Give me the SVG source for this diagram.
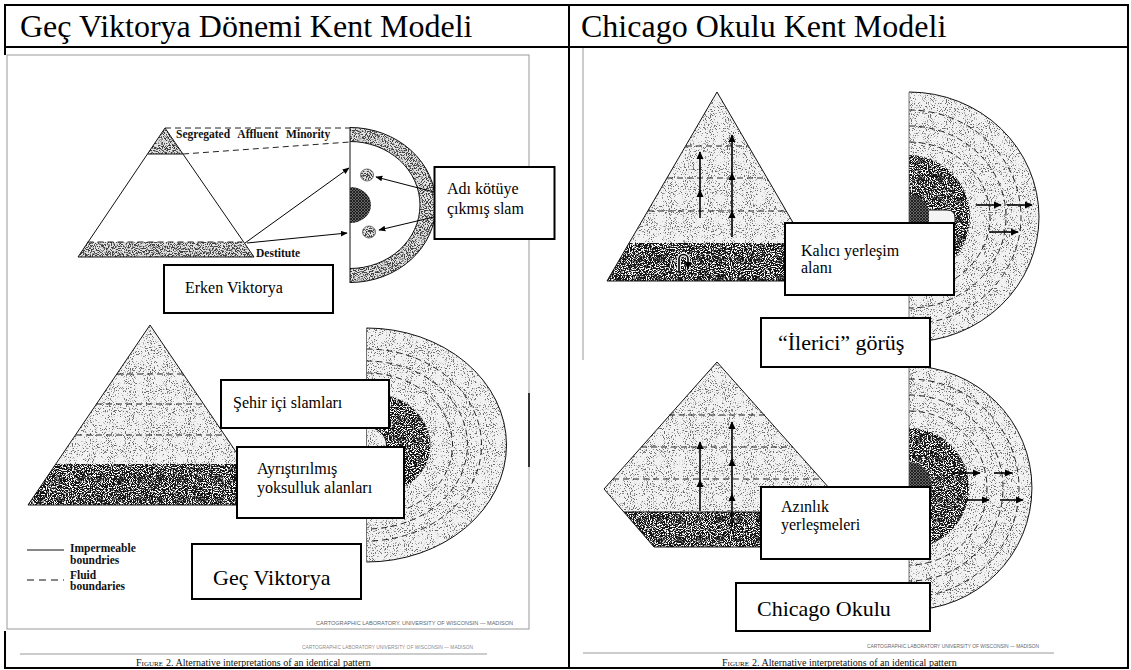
<svg xmlns="http://www.w3.org/2000/svg" width="1131" height="670" viewBox="0 0 1131 670">
<style>
.hdr{font-family:"Liberation Serif",serif;font-size:32px;fill:#000}
.lbl{font-family:"Liberation Serif",serif;font-size:16px;fill:#000}
.big{font-family:"Liberation Serif",serif;font-size:22px;fill:#000}
.fig{font-family:"Liberation Serif",serif;font-weight:bold;font-size:11.5px;fill:#111}
.cap{font-family:"Liberation Sans",sans-serif;font-size:6px;fill:#666}
.capt{font-family:"Liberation Serif",serif;font-size:10px;fill:#111}
.box{fill:#fff;stroke:#000;stroke-width:2}
.dash{fill:none;stroke:#222;stroke-width:1;stroke-dasharray:6 4}
.edge{fill:none;stroke:#111;stroke-width:1}
.thin{fill:none;stroke:#555;stroke-width:0.8}
.gray{fill:none;stroke:#999;stroke-width:1}
.tb{stroke:#000;stroke-width:2;fill:none}
.conn{stroke:#000;stroke-width:1;fill:none;marker-end:url(#ah)}
.conn2{stroke:#000;stroke-width:1.6;fill:none;marker-end:url(#ah2)}
.halo{stroke:#eee;stroke-width:4;fill:none}
.lt{fill:#f2f2f2;filter:url(#fLight)}
.md{fill:#e2e2e2;filter:url(#fMed)}
.dk{fill:#ffffff;filter:url(#fDark)}
.hat{fill:url(#hatch)}
</style>
<defs>
<marker id="ah" viewBox="0 0 10 10" refX="9" refY="5" markerWidth="7" markerHeight="7" orient="auto" markerUnits="userSpaceOnUse"><path d="M0,1 L10,5 L0,9 Z" fill="#000"/></marker>
<marker id="ah2" viewBox="0 0 10 10" refX="9" refY="5" markerWidth="8" markerHeight="8" orient="auto" markerUnits="userSpaceOnUse"><path d="M0,0.5 L10,5 L0,9.5 Z" fill="#000"/></marker>
<pattern id="hatch" width="3" height="3" patternUnits="userSpaceOnUse"><rect width="3" height="3" fill="#666"/><path d="M0,0 L3,3 M3,0 L0,3" stroke="#111" stroke-width="0.8"/></pattern>
<filter id="fLight" color-interpolation-filters="sRGB">
<feTurbulence type="fractalNoise" baseFrequency="0.95" numOctaves="2" seed="4" result="n"/>
<feColorMatrix in="n" type="matrix" values="0 0 0 0 0.42  0 0 0 0 0.42  0 0 0 0 0.42  9 0 0 0 -5.2" result="d"/>
<feComposite in="d" in2="SourceGraphic" operator="in" result="dc"/>
<feMerge><feMergeNode in="SourceGraphic"/><feMergeNode in="dc"/></feMerge>
</filter>
<filter id="fMed" color-interpolation-filters="sRGB">
<feTurbulence type="fractalNoise" baseFrequency="0.95" numOctaves="2" seed="7" result="n"/>
<feColorMatrix in="n" type="matrix" values="0 0 0 0 0.25  0 0 0 0 0.25  0 0 0 0 0.25  8 0 0 0 -3.8" result="d"/>
<feComposite in="d" in2="SourceGraphic" operator="in" result="dc"/>
<feMerge><feMergeNode in="SourceGraphic"/><feMergeNode in="dc"/></feMerge>
</filter>
<filter id="fDark" color-interpolation-filters="sRGB">
<feTurbulence type="fractalNoise" baseFrequency="0.95" numOctaves="2" seed="11" result="n"/>
<feColorMatrix in="n" type="matrix" values="0 0 0 0 0.08  0 0 0 0 0.08  0 0 0 0 0.08  8 0 0 0 -3.1" result="d"/>
<feComposite in="d" in2="SourceGraphic" operator="in" result="dc"/>
<feMerge><feMergeNode in="SourceGraphic"/><feMergeNode in="dc"/></feMerge>
</filter>
</defs>
<rect width="1131" height="670" fill="#fff"/>

<g id="headers">
<text class="hdr" x="20" y="37">Geç Viktorya Dönemi Kent Modeli</text>
<text class="hdr" x="581" y="37">Chicago Okulu Kent Modeli</text>
</g>

<g id="left-frame">
<rect x="7" y="55" width="522" height="574" fill="#fff" stroke="#999" stroke-width="1"/>
<line x1="529" y1="393" x2="529" y2="467" stroke="#000" stroke-width="1.5"/>
<text class="cap" x="316" y="625" textLength="197" lengthAdjust="spacingAndGlyphs">CARTOGRAPHIC LABORATORY. UNIVERSITY OF WISCONSIN — MADISON</text>
<text class="cap" x="302" y="649" textLength="171" lengthAdjust="spacingAndGlyphs" fill-opacity="0.8">CARTOGRAPHIC LABORATORY UNIVERSITY OF WISCONSIN — MADISON</text>
<line x1="20" y1="654" x2="487" y2="654" class="gray"/>
<text class="capt" x="136" y="666" font-variant="small-caps">Figure</text>
<text class="capt" x="166" y="666">2. Alternative interpretations of an identical pattern</text>
</g>

<g id="right-frame">
<line x1="583" y1="48" x2="583" y2="360" class="gray"/>
<text class="cap" x="867" y="648" textLength="172" lengthAdjust="spacingAndGlyphs">CARTOGRAPHIC LABORATORY UNIVERSITY OF WISCONSIN — MADISON</text>
<line x1="583" y1="653" x2="1054" y2="653" class="gray"/>
<text class="capt" x="722" y="666" font-variant="small-caps">Figure</text>
<text class="capt" x="752" y="666">2. Alternative interpretations of an identical pattern</text>
</g>

<!-- Erken Viktorya figure -->
<g id="erken-pyramid">
<path class="md" d="M165,128 L147.5,154 L182.7,154 Z"/>
<path class="md" d="M87.5,242 L242.5,242 L254,257 L78,257 Z"/>
<path class="edge" d="M165,128 L78,257 L254,257 Z"/>
<line class="edge" x1="147.5" y1="154" x2="182.7" y2="154"/>
<line class="dash" x1="87.5" y1="242" x2="242.5" y2="242"/>
<text class="fig" x="176" y="138" word-spacing="5">Segregated Affluent Minority</text>
<text class="fig" x="256" y="257">Destitute</text>
</g>
<g id="erken-city">
<path class="md" d="M350,127.5 A86,77.5 0 0 1 350,282.5 L350,268.5 A70,63.5 0 0 0 350,141.5 Z"/>
<path class="edge" d="M350,127.5 A86,77.5 0 0 1 350,282.5 M350,268.5 A70,63.5 0 0 0 350,141.5"/>
<line class="edge" x1="350" y1="127" x2="350" y2="283" stroke-width="1.5"/>
<path class="hat" d="M350,187 A21,18 0 0 1 350,223 Z"/>
<ellipse class="md" cx="367" cy="175" rx="6.5" ry="6"/>
<ellipse class="md" cx="369" cy="232" rx="6.5" ry="6"/>
<ellipse class="thin" cx="367" cy="175" rx="6.5" ry="6" stroke="#999"/>
<ellipse class="thin" cx="369" cy="232" rx="6.5" ry="6" stroke="#999"/>
<line class="dash" x1="165" y1="128" x2="350" y2="128"/>
<line class="dash" x1="183" y1="154" x2="350" y2="142"/>
</g>

<!-- Geç Viktorya figure -->
<g id="gec-pyramid">
<path class="lt" d="M150,325 L28,505 L272,505 Z"/>
<path class="dk" d="M55.8,464 L244.2,464 L272,505 L28,505 Z"/>
<path class="edge" d="M150,325 L28,505 L272,505 Z" stroke-width="0.8"/>
<line class="dash" x1="117" y1="374" x2="183" y2="374"/>
<line class="dash" x1="96" y1="404" x2="204" y2="404"/>
<line class="dash" x1="76" y1="435" x2="224" y2="435"/>
</g>
<g id="gec-city">
<path class="lt" d="M366.5,328 A140,117 0 0 1 366.5,562 Z"/>
<path class="dk" d="M366.5,392 A64,53 0 0 1 366.5,498 L366.5,463 A20,18 0 0 0 366.5,427 Z"/>
<path class="edge" d="M366.5,427 A20,18 0 0 1 366.5,463" stroke-width="0.8"/>
<path class="dash" d="M366.5,349 A115,96 0 0 1 366.5,541"/>
<path class="dash" d="M366.5,361 A101,84 0 0 1 366.5,529"/>
<path class="dash" d="M366.5,373 A86,72 0 0 1 366.5,517"/>
<path class="edge" d="M366.5,328 A140,117 0 0 1 366.5,562" stroke-width="0.8"/>
<line class="thin" x1="366.5" y1="328" x2="366.5" y2="562"/>
</g>
<g id="legend">
<line x1="27" y1="550" x2="64" y2="550" stroke="#111" stroke-width="1.2"/>
<text class="fig" x="70" y="552">Impermeable</text>
<text class="fig" x="70" y="564">boundries</text>
<line x1="27" y1="580" x2="64" y2="580" stroke="#111" stroke-width="1.2" stroke-dasharray="7 5"/>
<text class="fig" x="70" y="579">Fluid</text>
<text class="fig" x="70" y="590">boundaries</text>
</g>

<!-- Chicago top figure -->
<g id="ilerici-pyramid">
<path class="lt" d="M717,92 L607,281 L827,281 Z"/>
<path class="dk" d="M629,243 L805,243 L827,281 L607,281 Z"/>
<path class="edge" d="M717,92 L607,281 L827,281 Z" stroke-width="0.8"/>
<line class="dash" x1="686" y1="146" x2="748" y2="146"/>
<line class="dash" x1="667" y1="178" x2="767" y2="178"/>
<line class="dash" x1="648" y1="211" x2="786" y2="211"/>
</g>
<g id="ilerici-city">
<path class="lt" d="M909,92 A130,125 0 0 1 909,342 Z"/>
<path class="dk" d="M909,155 A61,62 0 0 1 909,279 Z"/>
<path class="hat" d="M909,195 A21,22 0 0 1 909,239 Z"/>
<path d="M929,210 L947,210 Q955,210 955,218 L955,226 L929,226" fill="#f4f4f4" stroke="#111" stroke-width="1"/>
<path class="dash" d="M909,110 A112,107 0 0 1 909,324"/>
<path class="dash" d="M909,126 A97,91 0 0 1 909,308"/>
<path class="dash" d="M909,142 A81,75 0 0 1 909,292"/>
<path class="edge" d="M909,92 A130,125 0 0 1 909,342" stroke-width="0.8"/>
<line class="thin" x1="909" y1="92" x2="909" y2="342"/>
</g>

<!-- Chicago bottom figure -->
<g id="chicago-pyramid">
<path class="lt" d="M717,362 L604,489 L654,547 L780,547 L830,489 Z"/>
<path class="dk" d="M624,512 L810,512 L780,547 L654,547 Z"/>
<path class="edge" d="M717,362 L604,489 L654,547 L780,547 L830,489 Z" stroke-width="0.8"/>
<line class="edge" x1="624" y1="512" x2="810" y2="512"/>
<line class="dash" x1="669" y1="415" x2="765" y2="415"/>
<line class="dash" x1="641" y1="447" x2="793" y2="447"/>
<line class="dash" x1="613" y1="479" x2="821" y2="479"/>
</g>
<g id="chicago-city">
<path class="lt" d="M909,366 A123,122 0 0 1 909,610 Z"/>
<path class="dk" d="M909,428 A60,60 0 0 1 909,548 Z"/>
<path class="hat" d="M909,462 A23,26 0 0 1 909,514 Z"/>
<path class="dash" d="M909,379 A110,109 0 0 1 909,597"/>
<path class="dash" d="M909,395 A94,93 0 0 1 909,581"/>
<path class="dash" d="M909,411 A78,77 0 0 1 909,565"/>
<path class="edge" d="M909,366 A123,122 0 0 1 909,610" stroke-width="0.8"/>
<line class="thin" x1="909" y1="366" x2="909" y2="610"/>
</g>

<g id="connectors">
<line class="conn" x1="434" y1="192" x2="376" y2="177"/>
<line class="conn" x1="434" y1="217" x2="379" y2="230"/>
<line class="conn" x1="245" y1="243" x2="349" y2="168"/>
<line class="conn" x1="247" y1="243" x2="347" y2="233"/>
<line class="conn2" x1="700" y1="218" x2="700" y2="190"/>
<line class="conn2" x1="700" y1="190" x2="700" y2="152"/>
<line class="conn2" x1="732" y1="237" x2="732" y2="211"/>
<line class="conn2" x1="732" y1="211" x2="732" y2="173"/>
<line class="conn2" x1="732" y1="173" x2="732" y2="135"/>
<path class="halo" d="M679,271 L679,259 A4.5,4.5 0 0 1 688,259 L688,269"/>
<path class="conn2" d="M679,271 L679,259 A4.5,4.5 0 0 1 688,259 L688,269"/>
<line class="conn2" x1="976" y1="205" x2="1001" y2="205"/>
<line class="conn2" x1="1007" y1="205" x2="1032" y2="205"/>
<line class="conn2" x1="989" y1="232" x2="1018" y2="232"/>
<line class="conn2" x1="700" y1="511" x2="700" y2="480"/>
<line class="conn2" x1="700" y1="480" x2="700" y2="442"/>
<line class="conn2" x1="732" y1="527" x2="732" y2="494"/>
<line class="conn2" x1="732" y1="494" x2="732" y2="459"/>
<line class="conn2" x1="732" y1="459" x2="732" y2="422"/>
<line class="conn2" x1="952" y1="473" x2="980" y2="473"/>
<line class="conn2" x1="994" y1="473" x2="1012" y2="473"/>
<line class="conn2" x1="965" y1="500" x2="989" y2="500"/>
<line class="conn2" x1="1000" y1="500" x2="1023" y2="500"/>
</g>

<g id="box-adi">
<rect class="box" x="434.5" y="167" width="120" height="72"/>
<text class="lbl" x="447" y="194" font-size="17">Adı kötüye</text>
<text class="lbl" x="447" y="214" font-size="17">çıkmış slam</text>
</g>
<g id="box-erken">
<rect class="box" x="164" y="265" width="169" height="48"/>
<text class="lbl" x="185" y="293">Erken Viktorya</text>
</g>
<g id="box-sehir">
<rect class="box" x="221" y="380" width="168" height="48"/>
<text class="lbl" x="233" y="408">Şehir içi slamları</text>
</g>
<g id="box-ayristirilmis">
<rect class="box" x="237" y="447" width="167" height="71"/>
<text class="lbl" x="257" y="474">Ayrıştırılmış</text>
<text class="lbl" x="257" y="493">yoksulluk alanları</text>
</g>
<g id="box-gec">
<rect class="box" x="192" y="544" width="169" height="55"/>
<text class="big" x="213" y="585">Geç Viktorya</text>
</g>
<g id="box-kalici">
<rect class="box" x="785" y="223" width="169" height="72"/>
<text class="lbl" x="801" y="256">Kalıcı yerleşim</text>
<text class="lbl" x="801" y="273">alanı</text>
</g>
<g id="box-ilerici">
<rect class="box" x="761" y="318" width="169" height="49"/>
<text class="big" x="778" y="350">“İlerici” görüş</text>
</g>
<g id="box-azinlik">
<rect class="box" x="761" y="487" width="169" height="72"/>
<text class="lbl" x="781" y="512">Azınlık</text>
<text class="lbl" x="781" y="530">yerleşmeleri</text>
</g>
<g id="box-chicago">
<rect class="box" x="736" y="583" width="194" height="48"/>
<text class="big" x="757" y="616">Chicago Okulu</text>
</g>

<g id="table">
<line class="tb" x1="4" y1="5" x2="1129" y2="5"/>
<line class="tb" x1="4" y1="47" x2="1129" y2="47"/>
<line class="tb" x1="4" y1="668" x2="1129" y2="668"/>
<line class="tb" x1="5" y1="4" x2="5" y2="55"/>
<line class="tb" x1="5" y1="631" x2="5" y2="669"/>
<line class="tb" x1="569" y1="4" x2="569" y2="669"/>
<line class="tb" x1="1128" y1="4" x2="1128" y2="669"/>
</g>
</svg>
